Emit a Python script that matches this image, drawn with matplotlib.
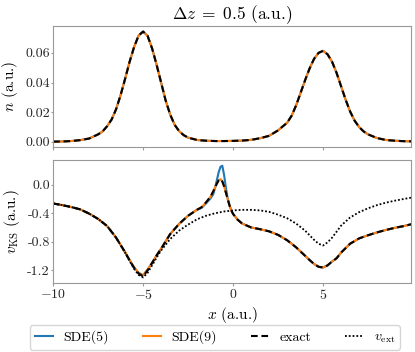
"""Density and KS potential for the two-centre model, dz = 0.5."""

import matplotlib

matplotlib.use("Agg")
import matplotlib.pyplot as plt

plt.rcParams.update({
    "font.family": "serif",
    "font.serif": ["cmr10"],
    "mathtext.fontset": "cm",
    "axes.formatter.use_mathtext": True,
    "axes.unicode_minus": True,
})

# density (SDE(5), SDE(9) and exact coincide on this scale)
x_n = [-10, -9.5, -9, -8.5, -8,
       -7.5, -7.25, -7, -6.75, -6.5, -6.25, -6, -5.75, -5.5, -5.25, -5,
       -4.75, -4.5, -4.25, -4, -3.75, -3.5, -3.25, -3, -2.75, -2.5,
       -2, -1.5, -1, -0.5, 0, 0.5, 1, 1.5, 2,
       2.5, 2.75, 3, 3.25, 3.5, 3.75, 4, 4.25, 4.5, 4.75, 5,
       5.25, 5.5, 5.75, 6, 6.25, 6.5, 6.75, 7, 7.25, 7.5,
       8, 8.5, 9, 9.5, 9.9]
density = [0.0001, 0.0002, 0.0005, 0.0011, 0.0022,
           0.005, 0.007, 0.0105, 0.015, 0.022, 0.0315, 0.0425, 0.054, 0.064, 0.0717, 0.0744,
           0.0715, 0.063, 0.052, 0.040, 0.028, 0.0185, 0.0115, 0.0072, 0.0045, 0.0028,
           0.0012, 0.0007, 0.0005, 0.0005, 0.0006, 0.0008, 0.0013, 0.0024, 0.004,
           0.0077, 0.0103, 0.0128, 0.0175, 0.0245, 0.033, 0.0415, 0.0495, 0.056, 0.060, 0.0614,
           0.059, 0.054, 0.0465, 0.0375, 0.0285, 0.0205, 0.0143, 0.010, 0.007, 0.005,
           0.0025, 0.0012, 0.0007, 0.0004, 0.0003]

# Kohn-Sham potentials
x_v = [-10, -9.5, -9, -8.5, -8, -7.5, -7, -6.5, -6,
       -5.75, -5.5, -5.25, -5, -4.75, -4.5, -4.25, -4,
       -3.5, -3, -2.5, -2, -1.75, -1.5, -1.25,
       -1.1, -1.0, -0.9, -0.8, -0.7, -0.6, -0.5, -0.4, -0.3, -0.2, -0.1, 0,
       0.25, 0.5, 1, 1.5, 2, 2.5, 3, 3.5, 4,
       4.25, 4.5, 4.75, 5, 5.25, 5.5, 5.75, 6,
       6.5, 7, 7.5, 8, 8.5, 9, 9.5, 9.9]
v_exact = [-0.262, -0.285, -0.312, -0.345, -0.405, -0.48, -0.58, -0.745, -0.95,
           -1.065, -1.17, -1.25, -1.29, -1.205, -1.10, -0.995, -0.90,
           -0.695, -0.55, -0.435, -0.35, -0.315, -0.245, -0.165,
           -0.09, -0.035, 0.02, 0.065, 0.08, 0.05, -0.02, -0.11, -0.20, -0.29, -0.36, -0.41,
           -0.49, -0.545, -0.60, -0.625, -0.655, -0.705, -0.78, -0.88, -1.0,
           -1.06, -1.115, -1.155, -1.165, -1.135, -1.08, -1.035, -0.955,
           -0.83, -0.755, -0.71, -0.67, -0.635, -0.605, -0.58, -0.555]
v_sde9 = [-0.262, -0.285, -0.312, -0.345, -0.405, -0.48, -0.58, -0.745, -0.95,
          -1.06, -1.165, -1.24, -1.275, -1.195, -1.10, -0.995, -0.90,
          -0.695, -0.55, -0.435, -0.35, -0.315, -0.245, -0.165,
          -0.09, -0.035, 0.02, 0.065, 0.08, 0.05, -0.02, -0.11, -0.20, -0.29, -0.36, -0.41,
          -0.49, -0.545, -0.60, -0.625, -0.655, -0.705, -0.78, -0.88, -1.0,
          -1.06, -1.115, -1.155, -1.165, -1.135, -1.08, -1.035, -0.955,
          -0.83, -0.755, -0.71, -0.67, -0.635, -0.605, -0.58, -0.555]
v_sde5 = [-0.262, -0.285, -0.312, -0.345, -0.405, -0.48, -0.58, -0.745, -0.95,
          -1.06, -1.165, -1.24, -1.275, -1.195, -1.10, -0.995, -0.90,
          -0.695, -0.55, -0.435, -0.35, -0.325, -0.26, -0.19,
          -0.13, -0.04, 0.07, 0.18, 0.255, 0.27, 0.14, -0.04, -0.19, -0.285, -0.36, -0.41,
          -0.49, -0.545, -0.60, -0.625, -0.655, -0.705, -0.78, -0.88, -1.0,
          -1.06, -1.115, -1.155, -1.165, -1.135, -1.08, -1.035, -0.955,
          -0.83, -0.755, -0.71, -0.67, -0.635, -0.605, -0.58, -0.555]

# external potential
x_ext = [-10, -9.5, -9, -8.5, -8, -7.5, -7, -6.5, -6,
         -5.75, -5.5, -5.25, -5, -4.75, -4.5, -4.25, -4,
         -3.5, -3, -2.5, -2, -1.5, -1, -0.5, 0, 0.5, 1, 1.5, 2, 2.5, 3, 3.5, 4,
         4.25, 4.5, 4.75, 5, 5.25, 5.5, 5.75, 6,
         6.5, 7, 7.5, 8, 8.5, 9, 9.5, 9.9]
v_ext = [-0.262, -0.285, -0.312, -0.345, -0.405, -0.48, -0.58, -0.745, -0.955,
         -1.075, -1.185, -1.27, -1.305, -1.24, -1.135, -1.025, -0.925,
         -0.765, -0.645, -0.56, -0.485, -0.435, -0.40, -0.375, -0.36, -0.352, -0.352,
         -0.36, -0.38, -0.42, -0.47, -0.545, -0.645,
         -0.71, -0.775, -0.83, -0.855, -0.81, -0.745, -0.66, -0.575,
         -0.46, -0.385, -0.33, -0.285, -0.25, -0.222, -0.198, -0.18]

BLUE = "#1f77b4"
ORANGE = "#ff7f0e"
LW = 1.5
DASH = (0, (3.2, 1.8))
DOTS = (0, (1, 1.1))

fig = plt.figure(figsize=(4.15, 3.52), dpi=100)
ax_n = fig.add_axes([0.128, 0.582, 0.863, 0.344])
ax_v = fig.add_axes([0.128, 0.196, 0.863, 0.349], sharex=ax_n)

ax_n.plot(x_n, density, color=BLUE, lw=LW)
ax_n.plot(x_n, density, color=ORANGE, lw=LW)
ax_n.plot(x_n, density, color="black", ls=DASH, lw=LW)

ax_v.plot(x_v, v_sde5, color=BLUE, lw=LW, label="SDE(5)")
ax_v.plot(x_v, v_sde9, color=ORANGE, lw=LW, label="SDE(9)")
ax_v.plot(x_v, v_exact, color="black", ls=DASH, lw=LW, label="exact")
ax_v.plot(x_ext, v_ext, color="black", ls=DOTS, lw=1.3, label=r"$v_\mathrm{ext}$")

ax_n.set_xlim(-10, 9.9)
ax_n.set_yticks([0.0, 0.02, 0.04, 0.06])
ax_n.yaxis.set_major_formatter(matplotlib.ticker.FormatStrFormatter("%.2f"))
ax_v.set_yticks([0.0, -0.4, -0.8, -1.2])
ax_v.yaxis.set_major_formatter(matplotlib.ticker.FormatStrFormatter("%.1f"))
ax_v.set_xticks([-10, -5, 0, 5])
ax_n.tick_params(labelbottom=False)

for ax in (ax_n, ax_v):
    for spine in ax.spines.values():
        spine.set_color("0.6")
    ax.tick_params(labelsize=10, length=2.5, colors="0.6", labelcolor="0.15")
    ax.tick_params(axis="x", pad=1)
    ax.tick_params(axis="y", length=1.5, pad=0.8)

ax_n.set_ylabel(r"$n$ (a.u.)", fontsize=11, labelpad=4)
ax_v.set_ylabel(r"$v_\mathrm{KS}$ (a.u.)", fontsize=11, labelpad=4)
ax_v.set_xlabel(r"$x$ (a.u.)", fontsize=11, labelpad=2.5)
ax_n.set_title(r"$\Delta z\;=\;0.5$ (a.u.)", fontsize=12.5, pad=5)

handles, labels = ax_v.get_legend_handles_labels()
fig.legend(handles, labels, loc="lower center", bbox_to_anchor=(0.518, 0.006),
           ncol=4, fontsize=10, handlelength=1.3, columnspacing=2.4,
           borderpad=0.35, borderaxespad=0.0, fancybox=True)

fig.savefig("out.png", dpi=100)
plt.close(fig)
